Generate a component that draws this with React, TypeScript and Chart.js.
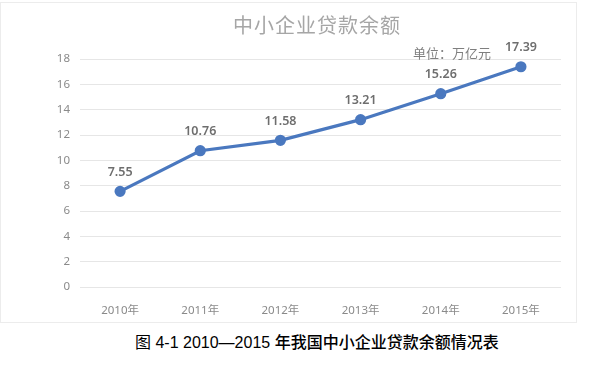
import React, { useEffect, useRef } from "react";
import { Chart, registerables } from "chart.js";

Chart.register(...registerables);

const categories = ["2010年", "2011年", "2012年", "2013年", "2014年", "2015年"];
const loanValues = [7.55, 10.76, 11.58, 13.21, 15.26, 17.39];
const chartTitle = "中小企业贷款余额";
const unitLabel = "单位：万亿元";
const captionPrefix = "图 4-1 2010—2015 ";
const captionMain = "年我国中小企业贷款余额情况表";

const valueLabels = {
  id: "valueLabels",
  afterDatasetsDraw(chart: any) {
    const ctx = chart.ctx;
    const meta = chart.getDatasetMeta(0);
    ctx.save();
    ctx.font = "600 12.5px 'Noto Sans', 'Liberation Sans', sans-serif";
    ctx.fillStyle = "#6e6e6e";
    ctx.textAlign = "center";
    ctx.textBaseline = "middle";
    meta.data.forEach((pt: any, i: number) => {
      ctx.fillText(loanValues[i].toFixed(2), pt.x, pt.y - 19);
    });
    ctx.restore();
  },
};

export default function App() {
  const ref = useRef<HTMLCanvasElement>(null);
  useEffect(() => {
    if (!ref.current) return;
    const chart = new Chart(ref.current, {
      type: "line",
      data: {
        labels: categories,
        datasets: [
          {
            data: loanValues,
            borderColor: "#4a78bf",
            backgroundColor: "#4a78bf",
            borderWidth: 3.2,
            pointRadius: 4,
            pointBackgroundColor: "#4a78bf",
            pointBorderColor: "#4a78bf",
            tension: 0,
          },
        ],
      },
      options: {
        animation: false,
        responsive: false,
        layout: { padding: { left: 0, right: 15, top: 56, bottom: 0 } },
        plugins: { legend: { display: false }, tooltip: { enabled: false }, title: { display: false } },
        scales: {
          x: {
            offset: true,
            grid: { display: false },
            border: { display: false },
            ticks: {
              padding: 9,
              color: "#8a8a8a",
              font: { size: 11.5, family: "'Noto Sans', 'Noto Sans CJK SC', sans-serif" },
            },
            afterFit: (s: any) => {
              s.height = 35;
            },
          },
          y: {
            min: 0,
            max: 18,
            grid: { color: "#e6e6e6", drawTicks: false, lineWidth: 1 },
            border: { display: false },
            ticks: {
              stepSize: 2,
              padding: 10,
              color: "#8a8a8a",
              font: { size: 11.5, family: "'Noto Sans', sans-serif" },
            },
            afterFit: (s: any) => {
              s.width = 79;
            },
          },
        },
      },
      plugins: [valueLabels],
    });
    return () => chart.destroy();
  }, []);

  return (
    <div style={{ position: "fixed", left: 0, top: 0, width: 602, height: 368, background: "#fff", overflow: "hidden" }}>
      <div
        style={{
          position: "absolute",
          left: 0,
          top: 2,
          width: 577,
          height: 321,
          border: "1px solid #ececec",
          boxSizing: "border-box",
        }}
      >
        <canvas ref={ref} width={575} height={319} style={{ display: "block", width: 575, height: 319 }} />
      </div>
      <div
        style={{
          position: "absolute",
          left: 217,
          width: 200,
          top: 11,
          textAlign: "center",
          fontFamily: "'Noto Sans CJK SC', sans-serif",
          fontSize: 20,
          lineHeight: "28px",
          color: "#a6a6a6",
          letterSpacing: 1,
        }}
      >
        {chartTitle}
      </div>
      <div
        style={{
          position: "absolute",
          left: 413,
          top: 44,
          fontFamily: "'Noto Sans CJK SC', sans-serif",
          fontSize: 13,
          lineHeight: "18px",
          color: "#7f7f7f",
        }}
      >
        {unitLabel}
      </div>
      <div
        style={{
          position: "absolute",
          left: 135,
          top: 330,
          fontSize: 16,
          lineHeight: "22px",
          color: "#000",
          whiteSpace: "nowrap",
        }}
      >
        <span style={{ fontFamily: "'Liberation Sans', 'Noto Sans CJK SC', sans-serif" }}>{captionPrefix}</span>
        <span style={{ fontFamily: "'Noto Sans CJK SC', sans-serif", fontWeight: 500 }}>{captionMain}</span>
      </div>
    </div>
  );
}
